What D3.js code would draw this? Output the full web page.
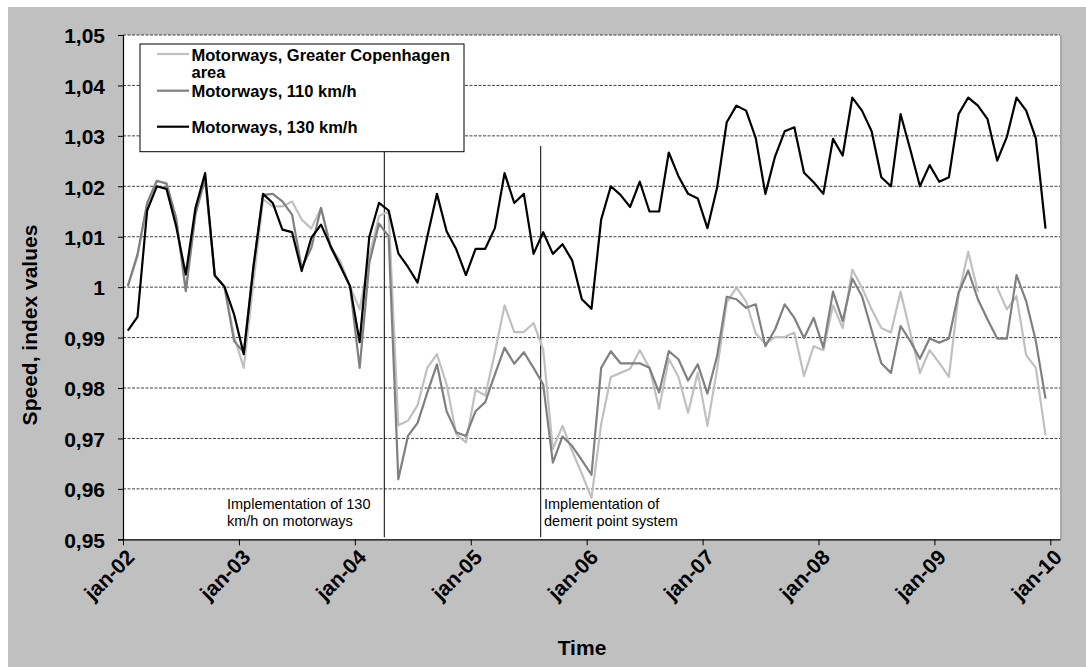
<!DOCTYPE html>
<html>
<head>
<meta charset="utf-8">
<script src="https://cdn.jsdelivr.net/npm/d3@7"></script>
<style>
  html, body { margin: 0; padding: 0; background: #ffffff; }
  svg { display: block; }
  text { font-family: "Liberation Sans", Arial, sans-serif; }
</style>
</head>
<body>
<svg id="chart" width="1086" height="667"></svg>
<script>
// ---------- DATA ----------
const xTickLabels = ["jan-02","jan-03","jan-04","jan-05","jan-06","jan-07","jan-08","jan-09","jan-10"];
const yTickValues = [0.95,0.96,0.97,0.98,0.99,1.00,1.01,1.02,1.03,1.04,1.05];
const yTickLabels = ["0,95","0,96","0,97","0,98","0,99","1","1,01","1,02","1,03","1,04","1,05"];
const seriesNames = ["Motorways, Greater Copenhagen area","Motorways, 110 km/h","Motorways, 130 km/h"];

const seriesCph = [
 1.0002,1.0061,1.0164,1.0210,1.0207,1.0137,0.9995,1.0150,1.0220,1.0023,1.0001,0.9903,
 0.9840,1.0009,1.0174,1.0160,1.0160,1.0170,1.0134,1.0116,1.0157,1.0081,1.0051,1.0002,
 0.9956,1.0061,1.0141,1.0150,0.9726,0.9735,0.9766,0.9840,0.9867,0.9807,0.9708,0.9692,
 0.9796,0.9785,0.9870,0.9964,0.9911,0.9911,0.9929,0.9876,0.9679,0.9725,0.9675,0.9630,
 0.9582,0.9728,0.9822,0.9830,0.9838,0.9875,0.9840,0.9759,0.9858,0.9822,0.9751,0.9830,
 0.9725,0.9837,0.9970,0.9999,0.9972,0.9908,0.9888,0.9901,0.9901,0.9910,0.9824,0.9883,
 0.9875,0.9964,0.9919,1.0035,0.9999,0.9956,0.9919,0.9910,0.9991,0.9910,0.9830,0.9875,
 0.9850,0.9822,0.9985,1.0070,0.9991,null,0.9999,0.9956,0.9982,0.9865,0.9840,0.9706
];
const series110 = [
 1.0002,1.0065,1.0167,1.0211,1.0205,1.0137,0.9992,1.0144,1.0215,1.0023,1.0001,0.9893,
 0.9871,1.0040,1.0183,1.0185,1.0170,1.0144,1.0038,1.0078,1.0157,1.0078,1.0042,1.0002,
 0.9840,1.0048,1.0126,1.0101,0.9619,0.9705,0.9731,0.9791,0.9847,0.9754,0.9712,0.9705,
 0.9754,0.9772,0.9827,0.9880,0.9848,0.9871,0.9840,0.9807,0.9652,0.9704,0.9685,0.9657,
 0.9628,0.9840,0.9873,0.9849,0.9849,0.9849,0.9840,0.9791,0.9873,0.9857,0.9815,0.9847,
 0.9789,0.9863,0.9981,0.9976,0.9959,0.9966,0.9883,0.9916,0.9966,0.9939,0.9899,0.9939,
 0.9880,0.9991,0.9933,1.0017,0.9982,0.9915,0.9849,0.9830,0.9923,0.9893,0.9858,0.9898,
 0.9890,0.9898,0.9989,1.0033,0.9976,0.9936,0.9898,0.9898,1.0024,0.9972,0.9893,0.9779
];
const series130 = [
 0.9914,0.9941,1.0152,1.0200,1.0195,1.0121,1.0025,1.0157,1.0226,1.0023,1.0001,0.9946,
 0.9867,1.0040,1.0185,1.0167,1.0114,1.0109,1.0032,1.0098,1.0124,1.0081,1.0042,1.0002,
 0.9891,1.0100,1.0167,1.0152,1.0067,1.0040,1.0009,1.0100,1.0185,1.0111,1.0075,1.0024,
 1.0076,1.0076,1.0117,1.0226,1.0167,1.0185,1.0066,1.0109,1.0066,1.0085,1.0053,0.9976,
 0.9957,1.0134,1.0200,1.0183,1.0159,1.0209,1.0150,1.0150,1.0267,1.0220,1.0185,1.0176,
 1.0117,1.0197,1.0327,1.0360,1.0350,1.0296,1.0185,1.0259,1.0309,1.0317,1.0227,1.0208,
 1.0185,1.0294,1.0261,1.0376,1.0350,1.0309,1.0218,1.0200,1.0343,1.0273,1.0200,1.0242,
 1.0209,1.0218,1.0343,1.0376,1.0360,1.0333,1.0251,1.0298,1.0376,1.0350,1.0295,1.0116
];
// annotation lines: position in month slots from jan-02
const annotationPos = [27.05, 43.24];
const annotationText = [["Implementation of 130","km/h on motorways"],["Implementation of","demerit point system"]];

// ---------- LAYOUT ----------
const svg = d3.select("#chart");
const W = 1086, H = 667;
const plot = {left: 123, right: 1060, top: 35, bottom: 539.3};
const nSlots = series130.length + 1; // jan-02 .. jan-10 slots

svg.append("rect").attr("x", 0).attr("y", 0).attr("width", W).attr("height", H).attr("fill", "#ffffff");
svg.append("rect").attr("x", 8).attr("y", 7).attr("width", W - 8).attr("height", H - 7).attr("fill", "#c0c0c0");

const x = d3.scaleLinear().domain([0, nSlots]).range([plot.left, plot.right]);
const y = d3.scaleLinear().domain([0.95, 1.05]).range([plot.bottom, plot.top]);

// plot area
svg.append("rect").attr("x", plot.left).attr("y", plot.top)
  .attr("width", plot.right - plot.left).attr("height", plot.bottom - plot.top)
  .attr("fill", "#ffffff");
svg.append("line").attr("x1", plot.right + 1).attr("x2", plot.right + 1)
  .attr("y1", plot.top).attr("y2", plot.bottom)
  .attr("stroke", "#a0a0a0").attr("stroke-width", 1.5);

// gridlines
svg.append("g").selectAll("line").data(yTickValues.slice(1)).join("line")
  .attr("x1", plot.left).attr("x2", plot.right)
  .attr("y1", d => y(d)).attr("y2", d => y(d))
  .attr("stroke", "#404040").attr("stroke-width", 1)
  .attr("stroke-dasharray", "3,1.5");

// annotation lines
svg.append("g").selectAll("line").data(annotationPos).join("line")
  .attr("x1", d => x(d)).attr("x2", d => x(d))
  .attr("y1", y(1.028)).attr("y2", plot.bottom - 2)
  .attr("stroke", "#000").attr("stroke-width", 1);

// annotation text
const annX = [227, 544];
annotationText.forEach((lines, k) => {
  const t = svg.append("text").attr("x", annX[k]).attr("y", 509)
    .attr("font-size", 14.5).attr("fill", "#000");
  lines.forEach((s, j) => t.append("tspan").attr("x", annX[k]).attr("dy", j === 0 ? 0 : 17).text(s));
});

// series lines
const line = d3.line()
  .defined(d => d != null)
  .x((d, i) => x(i + 0.5))
  .y(d => y(d));
const seriesData = [seriesCph, series110, series130];
const seriesColors = ["#c0c0c0", "#808080", "#000000"];
seriesData.forEach((s, k) => {
  svg.append("path").datum(s).attr("d", line)
    .attr("fill", "none").attr("stroke", seriesColors[k])
    .attr("stroke-width", 2.2).attr("stroke-linejoin", "round");
});

// y axis
const yAxis = d3.axisLeft(y).tickValues(yTickValues)
  .tickFormat((d, i) => yTickLabels[i]).tickSize(5).tickPadding(13);
const gy = svg.append("g").attr("transform", `translate(${plot.left},0)`).call(yAxis);
gy.select(".domain").attr("stroke", "#000").attr("stroke-width", 1.2);
gy.selectAll(".tick line").attr("stroke", "#000");
gy.selectAll(".tick text").attr("font-size", 21).attr("font-weight", "bold")
  .attr("font-family", "Liberation Sans, Arial, sans-serif").attr("fill", "#000").attr("dy", "0.37em");

// x axis
const xTickValues = xTickLabels.map((d, i) => i * 12);
const xAxis = d3.axisBottom(x).tickValues(xTickValues)
  .tickFormat((d, i) => xTickLabels[i]).tickSize(6).tickSizeOuter(0);
const gx = svg.append("g").attr("transform", `translate(0,${plot.bottom})`).call(xAxis);
gx.select(".domain").attr("stroke", "#000").attr("stroke-width", 1.2);
gx.selectAll(".tick line").attr("stroke", "#000");
gx.selectAll(".tick text")
  .attr("font-size", 21).attr("font-weight", "bold")
  .attr("font-family", "Liberation Sans, Arial, sans-serif").attr("fill", "#000")
  .attr("text-anchor", "end").attr("dy", null).attr("y", 0)
  .attr("dominant-baseline", "central")
  .attr("transform", "translate(7,14) rotate(-45)");

// axis titles
svg.append("text").attr("x", 582).attr("y", 655)
  .attr("text-anchor", "middle").attr("font-size", 21).attr("font-weight", "bold").text("Time");
svg.append("text").attr("transform", "translate(37,325) rotate(-90)")
  .attr("text-anchor", "middle").attr("font-size", 21).attr("font-weight", "bold")
  .text("Speed, index values");

// legend
const lg = svg.append("g");
lg.append("rect").attr("x", 140).attr("y", 44).attr("width", 324).attr("height", 107.7)
  .attr("fill", "#fff").attr("stroke", "#000").attr("stroke-width", 1);
const legendRows = [
  {lineY: 54, texts: [["Motorways, Greater Copenhagen", 61], ["area", 78]]},
  {lineY: 90.7, texts: [["Motorways, 110 km/h", 96.7]]},
  {lineY: 126.7, texts: [["Motorways, 130 km/h", 132.7]]}
];
legendRows.forEach((r, k) => {
  lg.append("line").attr("x1", 157).attr("x2", 189).attr("y1", r.lineY).attr("y2", r.lineY)
    .attr("stroke", seriesColors[k]).attr("stroke-width", 2.2);
  r.texts.forEach(([s, yy]) => {
    lg.append("text").attr("x", 191.5).attr("y", yy).attr("font-size", 16.5)
      .attr("font-weight", "bold").attr("fill", "#000").text(s);
  });
});
</script>
</body>
</html>
